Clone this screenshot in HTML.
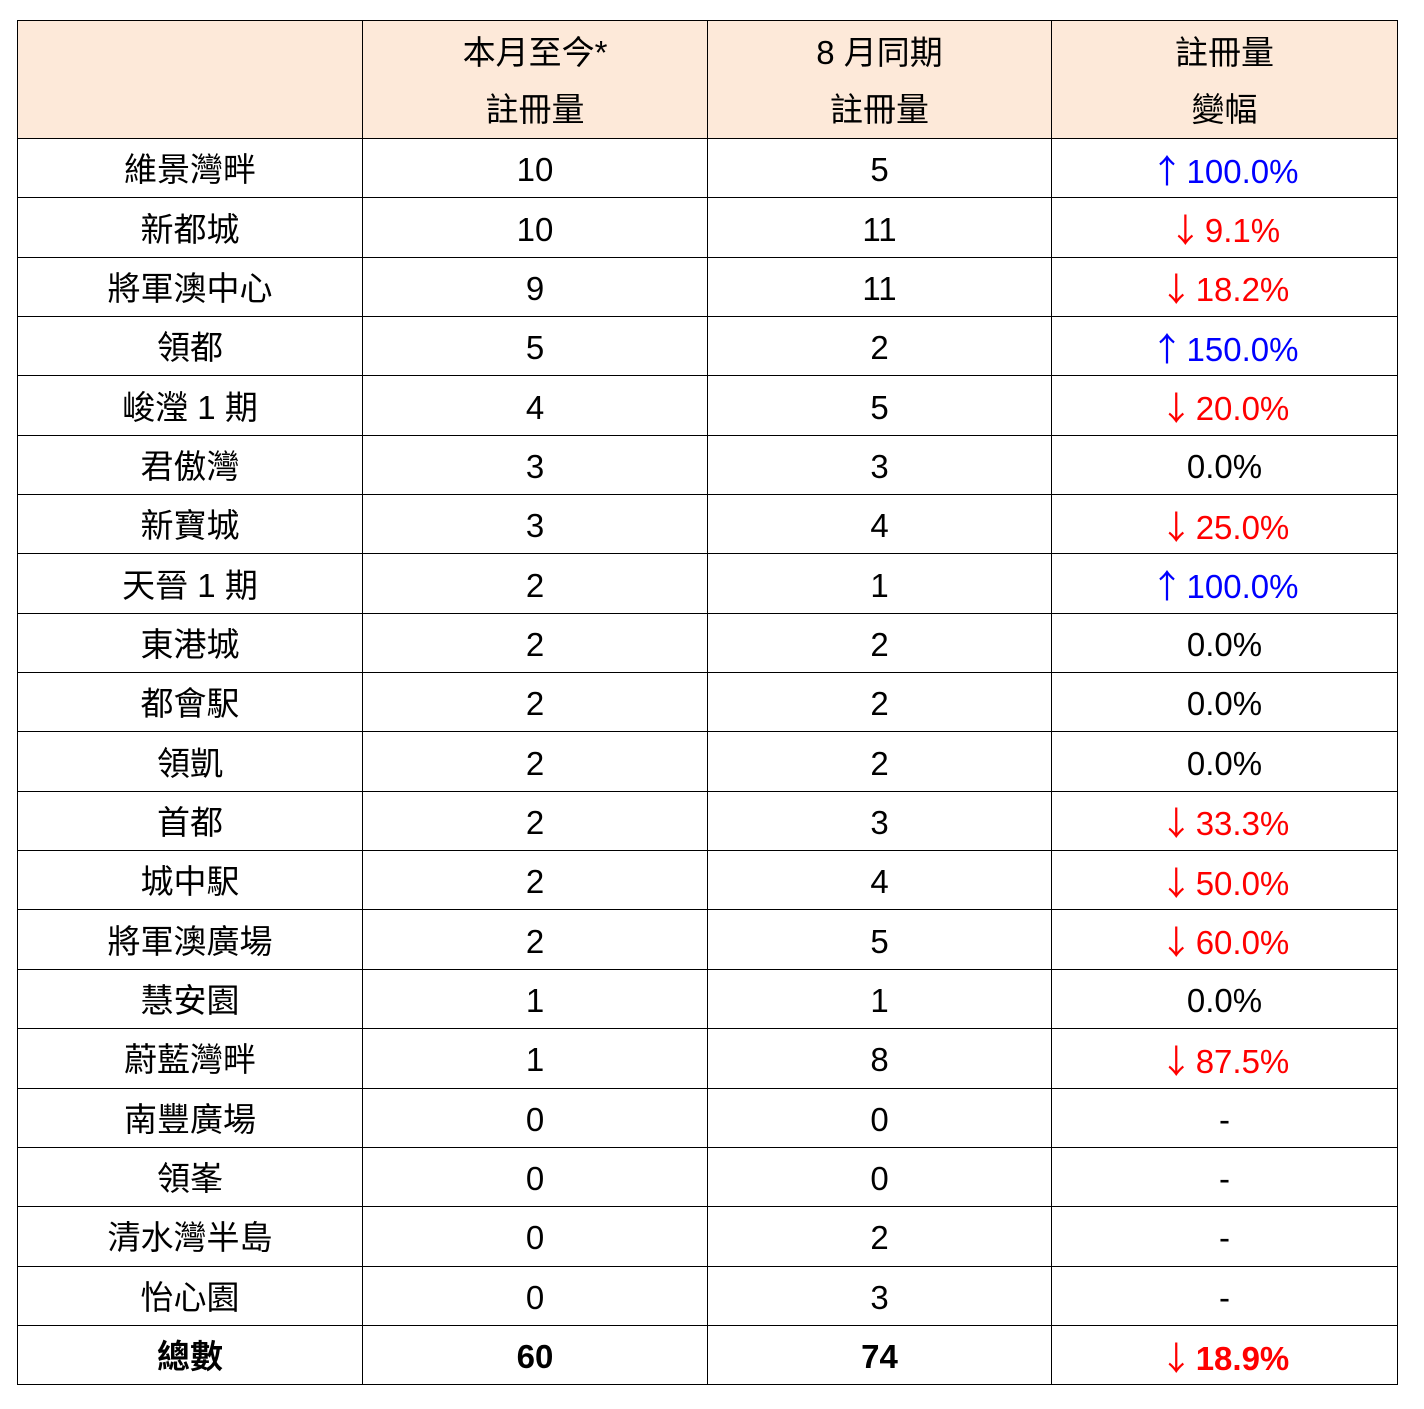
<!DOCTYPE html>
<html><head><meta charset="utf-8"><style>
body{margin:0;background:#fff;width:1424px;height:1409px;position:relative;font-family:"Liberation Sans","Noto Sans CJK TC",sans-serif;}
table{position:absolute;left:17px;top:20px;border-collapse:collapse;table-layout:fixed;width:1380px;}
td{border:1px solid #000;text-align:center;font-size:33px;color:#000;padding:4px 0 0 0;height:54.35px;line-height:30px;}
tr.h td{background:#fde9d9;height:114px;line-height:57px;padding-top:3px;}
.u{color:#0000ff}.d{color:#ff0000}
.a{font-family:"Noto Sans CJK TC",sans-serif;font-weight:normal;margin-right:3px}
tr.t td{font-weight:bold}
</style></head><body>
<table>
<colgroup><col style="width:345px"><col style="width:345px"><col style="width:344px"><col style="width:346px"></colgroup>
<tr class="h"><td></td><td>本月至今*<br>註冊量</td><td>8 月同期<br>註冊量</td><td>註冊量<br>變幅</td></tr>
<tr><td>維景灣畔</td><td>10</td><td>5</td><td class="u"><span class="a">↑</span>100.0%</td></tr>
<tr><td>新都城</td><td>10</td><td>11</td><td class="d"><span class="a">↓</span>9.1%</td></tr>
<tr><td>將軍澳中心</td><td>9</td><td>11</td><td class="d"><span class="a">↓</span>18.2%</td></tr>
<tr><td>領都</td><td>5</td><td>2</td><td class="u"><span class="a">↑</span>150.0%</td></tr>
<tr><td>峻瀅 1 期</td><td>4</td><td>5</td><td class="d"><span class="a">↓</span>20.0%</td></tr>
<tr><td>君傲灣</td><td>3</td><td>3</td><td>0.0%</td></tr>
<tr><td>新寶城</td><td>3</td><td>4</td><td class="d"><span class="a">↓</span>25.0%</td></tr>
<tr><td>天晉 1 期</td><td>2</td><td>1</td><td class="u"><span class="a">↑</span>100.0%</td></tr>
<tr><td>東港城</td><td>2</td><td>2</td><td>0.0%</td></tr>
<tr><td>都會駅</td><td>2</td><td>2</td><td>0.0%</td></tr>
<tr><td>領凱</td><td>2</td><td>2</td><td>0.0%</td></tr>
<tr><td>首都</td><td>2</td><td>3</td><td class="d"><span class="a">↓</span>33.3%</td></tr>
<tr><td>城中駅</td><td>2</td><td>4</td><td class="d"><span class="a">↓</span>50.0%</td></tr>
<tr><td>將軍澳廣場</td><td>2</td><td>5</td><td class="d"><span class="a">↓</span>60.0%</td></tr>
<tr><td>慧安園</td><td>1</td><td>1</td><td>0.0%</td></tr>
<tr><td>蔚藍灣畔</td><td>1</td><td>8</td><td class="d"><span class="a">↓</span>87.5%</td></tr>
<tr><td>南豐廣場</td><td>0</td><td>0</td><td>-</td></tr>
<tr><td>領峯</td><td>0</td><td>0</td><td>-</td></tr>
<tr><td>清水灣半島</td><td>0</td><td>2</td><td>-</td></tr>
<tr><td>怡心園</td><td>0</td><td>3</td><td>-</td></tr>
<tr class="t"><td>總數</td><td>60</td><td>74</td><td class="d"><span class="a">↓</span>18.9%</td></tr>
</table>
</body></html>
